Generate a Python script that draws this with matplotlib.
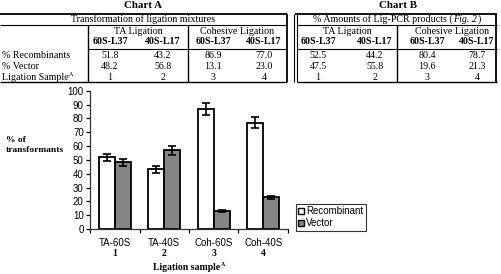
import matplotlib
matplotlib.use("Agg")
import matplotlib.pyplot as plt
import numpy as np

# ---------------- data ----------------
groups = ["TA-60S", "TA-40S", "Coh-60S", "Coh-40S"]
group_nums = ["1", "2", "3", "4"]
recombinant = [51.8, 43.2, 86.9, 77.0]
vector = [48.2, 56.8, 13.1, 23.0]
recomb_err = [2.7, 2.4, 4.2, 4.2]
vector_err = [2.4, 3.0, 0.8, 1.0]
yticks = [0, 10, 20, 30, 40, 50, 60, 70, 80, 90, 100]

colA_heads = ["60S-L37", "40S-L17", "60S-L37", "40S-L17"]
A_recomb = ["51.8", "43.2", "86.9", "77.0"]
A_vector = ["48.2", "56.8", "13.1", "23.0"]
B_recomb = ["52.5", "44.2", "80.4", "78.7"]
B_vector = ["47.5", "55.8", "19.6", "21.3"]
samples = ["1", "2", "3", "4"]
row_labels = ["% Recombinants", "% Vector"]

W, H = 502, 274
fig = plt.figure(figsize=(W / 100, H / 100), dpi=100)
fig.patch.set_facecolor("white")

serif = "Liberation Serif"
sans = "Liberation Sans"
TS = 7.2  # table font size

# ---------------- overlay axes for tables ----------------
ov = fig.add_axes([0, 0, 1, 1])
ov.set_xlim(0, W)
ov.set_ylim(H, 0)
ov.axis("off")

fig.canvas.draw()
R = fig.canvas.get_renderer()
INV = ov.transData.inverted()

def hline(x0, x1, y, lw=1.0, c="black"):
    ov.plot([x0, x1], [y, y], color=c, lw=lw, solid_capstyle="butt")

def vline(x, y0, y1, lw=1.0, c="black"):
    ov.plot([x, x], [y0, y1], color=c, lw=lw, solid_capstyle="butt")

def txt(x, y, s, size=TS, weight="normal", ha="center", style="normal", family=serif):
    return ov.text(x, y, s, fontsize=size, fontweight=weight, ha=ha, va="center",
                   family=family, style=style)

def width_of(t):
    bb = t.get_window_extent(renderer=R)
    (x0, _), (x1, _) = INV.transform([[bb.x0, bb.y0], [bb.x1, bb.y1]])
    return x1 - x0

def with_sup(x, y, s, sup, size=TS, weight="normal", ha="left"):
    t = txt(x, y, s, size=size, weight=weight, ha="left")
    w = width_of(t)
    s2 = txt(0, y - 3, sup, size=size * 0.6, weight=weight, ha="left")
    w2 = width_of(s2)
    x0 = x if ha == "left" else x - (w + w2) / 2
    t.set_x(x0)
    s2.set_x(x0 + w + 0.3)

# Chart A
txt(143, 5.5, "Chart A", size=7.8, weight="bold")
hline(0, 287, 13.5, lw=1.3)
txt(143, 19, "Transformation of ligation mixtures")
hline(0, 287, 24.5, lw=0.8)
vline(88, 24.5, 82, lw=1.0)
vline(188, 24.5, 82, lw=1.0)
vline(287, 13.5, 82, lw=1.3)
hline(88, 287, 49, lw=0.8)
hline(0, 287, 82, lw=1.0)
txt(138, 32, "TA Ligation")
txt(237, 32, "Cohesive Ligation")
colA_x = [110, 163, 213, 264]
colB_x = [318, 375, 427, 477]
for x, h in zip(colA_x, colA_heads):
    txt(x, 41.5, h, weight="bold")
rows_y = [56, 66.5, 77]
txt(2, rows_y[0], row_labels[0], ha="left")
txt(2, rows_y[1], row_labels[1], ha="left")
with_sup(2, rows_y[2], "Ligation Sample", "A")
for i, x in enumerate(colA_x):
    txt(x, rows_y[0], A_recomb[i])
    txt(x, rows_y[1], A_vector[i])
    txt(x, rows_y[2], samples[i])

# Chart B
txt(398, 5.5, "Chart B", size=7.8, weight="bold")
hline(295, 497, 13.5, lw=1.3)
hline(297, 497, 24.5, lw=0.8)
vline(294.5, 13.5, 82, lw=0.8)
vline(297.5, 13.5, 82, lw=0.8)
vline(496.5, 13.5, 82, lw=1.3)
vline(397, 24.5, 82, lw=1.0)
hline(297, 497, 49, lw=0.8)
hline(297, 497, 82, lw=1.0)
txt(347, 32, "TA Ligation")
txt(452, 32, "Cohesive Ligation")
for x, h in zip(colB_x, colA_heads):
    txt(x, 41.5, h, weight="bold")
for i, x in enumerate(colB_x):
    txt(x, rows_y[0], B_recomb[i])
    txt(x, rows_y[1], B_vector[i])
    txt(x, rows_y[2], samples[i])

# title with italic part, laid out piece by piece
pieces = [("% Amounts of Lig-PCR products (", "normal"), ("Fig. 2", "italic"), (")", "normal")]
objs = [txt(0, 19, s, ha="left", style=st) for s, st in pieces]
widths = [width_of(t) for t in objs]
total = sum(widths) + 1.0
cur = 397 - total / 2
for t, w in zip(objs, widths):
    t.set_x(cur)
    cur += w + 0.5

# y label of bar chart
txt(6, 140, "% of", size=6.8, weight="bold", ha="left")
txt(6, 150.5, "transformants", size=6.8, weight="bold", ha="left")

# ---------------- bar chart ----------------
ax_l, ax_r, ax_t, ax_b = 90, 288, 90.7, 229
ax = fig.add_axes([ax_l / W, (H - ax_b) / H, (ax_r - ax_l) / W, (ax_b - ax_t) / H])
ax.set_facecolor("none")
x = np.arange(len(groups)) + 0.5
bw = 0.32
ax.bar(x - bw / 2, recombinant, bw, color="white", edgecolor="black", linewidth=1.3,
       label="Recombinant", zorder=2)
ax.bar(x + bw / 2, vector, bw, color="#858585", edgecolor="black", linewidth=1.3,
       label="Vector", zorder=2)
ax.errorbar(x - bw / 2, recombinant, yerr=recomb_err, fmt="none", ecolor="black",
            elinewidth=1.2, capsize=2.8, capthick=1.2, zorder=3)
ax.errorbar(x + bw / 2, vector, yerr=vector_err, fmt="none", ecolor="black",
            elinewidth=1.2, capsize=2.8, capthick=1.2, zorder=3)
ax.set_xlim(0, 4)
ax.set_ylim(0, 100)
ax.set_yticks(yticks)
ax.set_yticklabels([str(v) for v in yticks], fontsize=7, family=sans)
ax.set_xticks([0, 1, 2, 3, 4])
ax.set_xticklabels([])
ax.set_xticks(x, minor=True)
ax.set_xticklabels(groups, minor=True, fontsize=7, family=sans)
ax.tick_params(axis="x", which="minor", length=0, pad=6.5)
ax.tick_params(axis="x", which="major", length=3, width=0.9, direction="out")
ax.tick_params(axis="y", length=3, width=0.9, direction="out", pad=1.5)
for s in ["top", "right"]:
    ax.spines[s].set_visible(False)
for s in ["left", "bottom"]:
    ax.spines[s].set_linewidth(0.9)
    ax.spines[s].set_color("#333333")

for xi, n in zip(x, group_nums):
    xpix = ax_l + xi / 4 * (ax_r - ax_l)
    txt(xpix, 254, n, size=7, weight="bold")
with_sup(189, 268, "Ligation sample", "A", size=7, weight="bold", ha="center")

leg = ax.legend(loc="upper left", bbox_to_anchor=((296 - ax_l) / (ax_r - ax_l), (ax_b - 204) / (ax_b - ax_t)),
                frameon=True, fancybox=False, prop={"family": sans, "size": 7},
                handlelength=0.6, handleheight=0.6, handletextpad=0.2, borderpad=0.25,
                labelspacing=0.2, borderaxespad=0)
leg.get_frame().set_edgecolor("black")
leg.get_frame().set_linewidth(0.8)
for p in leg.get_patches():
    p.set_linewidth(1.0)

fig.savefig("out.png", dpi=100, facecolor="white")
